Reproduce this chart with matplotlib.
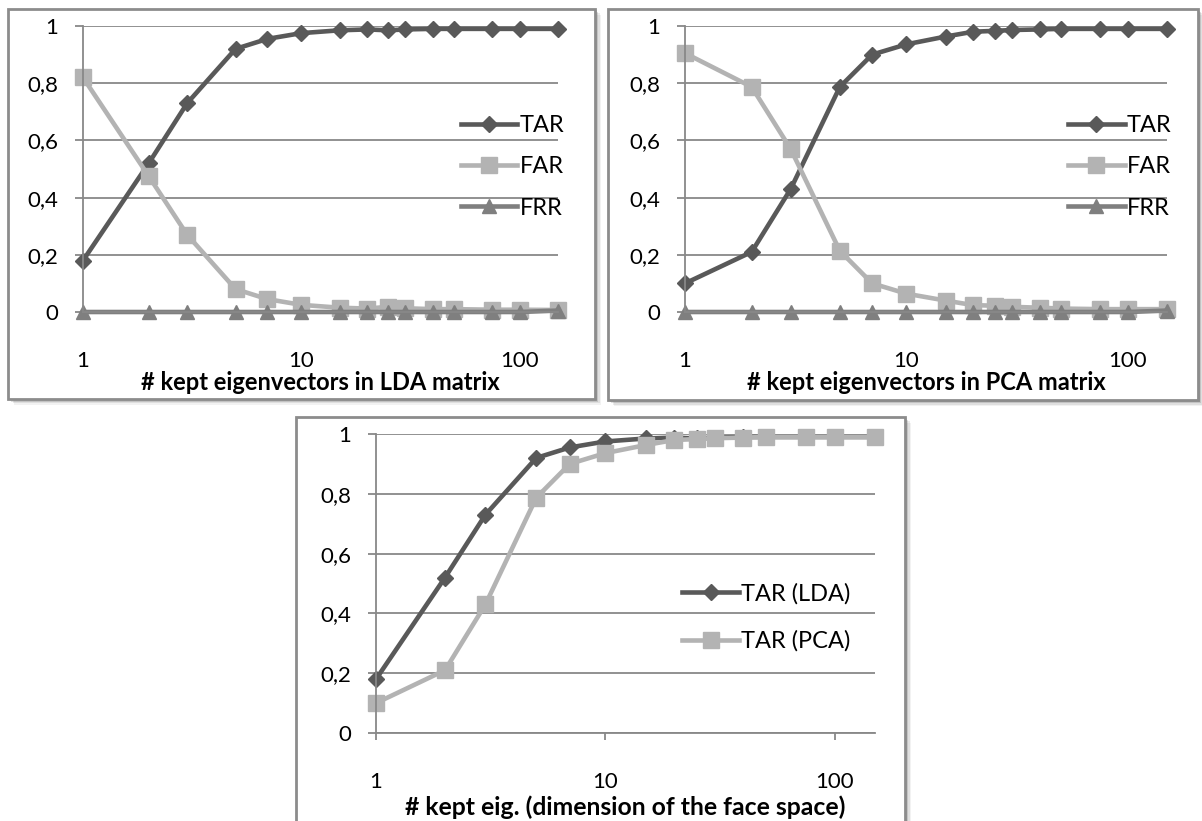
import matplotlib
matplotlib.use("Agg")
from matplotlib import pyplot as plt
from matplotlib.patches import Rectangle
from matplotlib.ticker import FixedLocator, FuncFormatter, NullLocator

plt.rcParams['font.family'] = ['Lato', 'DejaVu Sans']

# kept eigenvectors
x = [1, 2, 3, 5, 7, 10, 15, 20, 25, 30, 40, 50, 75, 100, 150]

# LDA
lda_tar = [0.18, 0.52, 0.73, 0.92, 0.955, 0.975, 0.985, 0.988, 0.985, 0.988,
           0.99, 0.99, 0.99, 0.99, 0.99]
lda_far = [0.82, 0.475, 0.27, 0.08, 0.045, 0.025, 0.015, 0.012, 0.018, 0.013,
           0.01, 0.01, 0.008, 0.008, 0.007]
lda_frr = [0, 0, 0, 0, 0, 0, 0, 0, 0, 0, 0, 0, 0, 0, 0.005]

# PCA
pca_tar = [0.1, 0.21, 0.43, 0.787, 0.9, 0.936, 0.963, 0.98, 0.983, 0.986,
           0.988, 0.99, 0.99, 0.99, 0.99]
pca_far = [0.905, 0.787, 0.57, 0.214, 0.1, 0.064, 0.04, 0.024, 0.022, 0.018,
           0.015, 0.012, 0.01, 0.01, 0.01]
pca_frr = [0, 0, 0, 0, 0, 0, 0, 0, 0, 0, 0, 0, 0, 0, 0.005]

xticks = [1, 10, 100]
yticks = [0, 0.2, 0.4, 0.6, 0.8, 1]

DARK = "#595959"
LIGHT = "#b3b3b3"
MID = "#7f7f7f"
GRID = "#888888"
FS = 16
LFS = 17

fig = plt.figure(figsize=(12.02, 8.21), dpi=100)


def frame(left, bottom, width, height):
    # soft shadow then white box with grey border
    for i, a in enumerate([0.16, 0.12, 0.08, 0.05]):
        off = (i + 1) * 1.5
        fig.add_artist(Rectangle((left + off / 1202, bottom - off / 821),
                                 width, height, transform=fig.transFigure,
                                 facecolor="black", edgecolor="none",
                                 alpha=a, zorder=-3))
    fig.add_artist(Rectangle((left, bottom), width, height,
                             transform=fig.transFigure, facecolor="white",
                             edgecolor="#8c8c8c", linewidth=2, zorder=-2))


def style(ax, xlabel, lsize):
    ax.set_xscale("log")
    ax.set_xlim(1, 150)
    ax.set_ylim(0, 1)
    ax.xaxis.set_major_locator(FixedLocator(xticks))
    ax.xaxis.set_minor_locator(NullLocator())
    ax.xaxis.set_major_formatter(FuncFormatter(lambda v, p: "%d" % v))
    ax.yaxis.set_major_locator(FixedLocator(yticks))
    ax.yaxis.set_major_formatter(
        FuncFormatter(lambda v, p: ("%g" % v).replace(".", ",")))
    ax.grid(axis="y", color=GRID, linewidth=1.3)
    ax.set_axisbelow(True)
    for s in ["top", "right"]:
        ax.spines[s].set_visible(False)
    for s in ["left", "bottom"]:
        ax.spines[s].set_color(GRID)
        ax.spines[s].set_linewidth(1.3)
    ax.tick_params(axis="y", length=6, width=1.3, color=GRID, pad=12,
                   labelsize=FS)
    ax.tick_params(axis="x", length=5, width=1.3, color=GRID, pad=23,
                   labelsize=FS)
    ax.set_xlabel(xlabel, fontsize=lsize, fontweight="bold")
    ax.xaxis.label.set_verticalalignment("center")
    ax.xaxis.set_label_coords(0.5, -0.248)
    ax.patch.set_alpha(0)


def series(ax, y, color, marker, ms, label):
    ax.plot(x, y, color=color, linewidth=3.3, marker=marker, markersize=ms,
            label=label, clip_on=False)


def legend(ax, xa, ya, spacing):
    ax.legend(loc="center left", bbox_to_anchor=(xa, ya), frameon=False,
              fontsize=LFS, handlelength=2.4, handletextpad=0.1,
              labelspacing=spacing, borderpad=0)


frame(8 / 1202, 1 - 399 / 821, 587 / 1202, 390 / 821)
frame(608 / 1202, 1 - 400 / 821, 590 / 1202, 391 / 821)
frame(296 / 1202, -0.02, 609 / 1202, (821 - 417) / 821 + 0.02)

ax1 = fig.add_axes([83 / 1202, 1 - 312 / 821, 475 / 1202, 286 / 821])
series(ax1, lda_tar, DARK, "D", 8, "TAR")
series(ax1, lda_far, LIGHT, "s", 11, "FAR")
series(ax1, lda_frr, MID, "^", 10, "FRR")
style(ax1, "# kept eigenvectors in LDA matrix", 17)
legend(ax1, 0.77, 0.507, 0.85)

ax2 = fig.add_axes([685 / 1202, 1 - 312 / 821, 482 / 1202, 286 / 821])
series(ax2, pca_tar, DARK, "D", 8, "TAR")
series(ax2, pca_far, LIGHT, "s", 11, "FAR")
series(ax2, pca_frr, MID, "^", 10, "FRR")
style(ax2, "# kept eigenvectors in PCA matrix", 17)
legend(ax2, 0.77, 0.507, 0.85)

ax3 = fig.add_axes([376 / 1202, 1 - 733 / 821, 499 / 1202, 299 / 821])
series(ax3, lda_tar, DARK, "D", 8, "TAR (LDA)")
series(ax3, pca_tar, LIGHT, "s", 11, "TAR (PCA)")
style(ax3, "# kept eig. (dimension of the face space)", 17.8)
legend(ax3, 0.59, 0.387, 1.1)

fig.savefig("out.png", dpi=100)
